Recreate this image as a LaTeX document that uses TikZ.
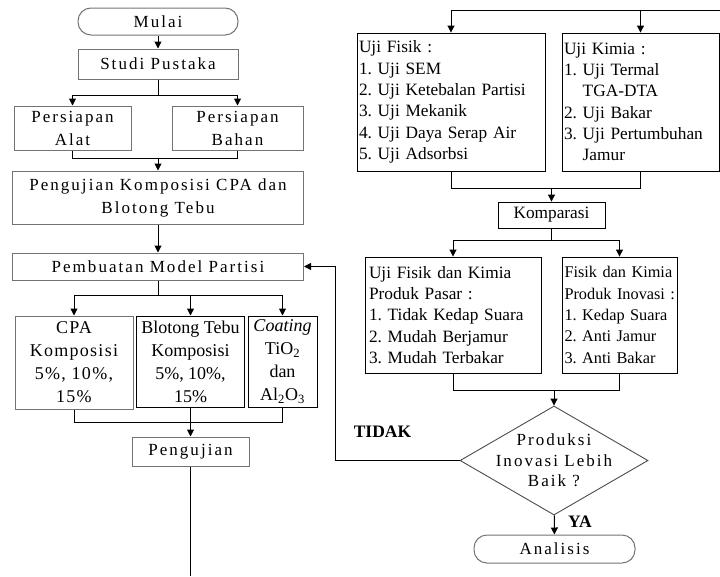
\documentclass[tikz,border=0pt]{standalone}
\usepackage{fontspec}
\setmainfont{Liberation Serif}
\newfontfamily\spaced[LetterSpace=12]{Liberation Serif}
\newfontfamily\spacedlite[LetterSpace=7]{Liberation Serif}
\usetikzlibrary{arrows.meta,shapes.geometric}
\frenchspacing
\hyphenpenalty=10000
\exhyphenpenalty=10000

\begin{document}
\begin{tikzpicture}[
    x=1pt, y=-1pt,
    box/.style={rectangle, draw=black!55, line width=1pt, inner sep=0pt, align=center, font=\spaced\fontsize{17}{23}\selectfont},
    ends/.style={box, rounded corners=13pt},
    list/.style={rectangle, draw, line width=0.9pt, inner xsep=2pt, inner ysep=0pt, align=left, font=\fontsize{17.3}{21.3}\selectfont},
    arrow/.style={-{Triangle[length=7pt,width=7pt]}, line width=1pt},
    link/.style={line width=1pt},
]
\useasboundingbox (0,0) rectangle (720,576);

% Left column
\node[ends, minimum width=160pt, minimum height=27pt] (mulai) at (158,21.5) {Mulai};
\node[box, minimum width=160pt, minimum height=30pt] (studi) at (158,64) {Studi Pustaka};
\node[box, minimum width=117pt, minimum height=44pt] (alat) at (72.5,128) {Persiapan\\Alat};
\node[box, minimum width=131pt, minimum height=44pt] (bahan) at (237.5,128) {Persiapan\\Bahan};
\node[box, minimum width=291pt, minimum height=53pt] (komposisi) at (158,197.5) {Pengujian Komposisi CPA dan\\Blotong Tebu};
\node[box, minimum width=291pt, minimum height=27pt] (model) at (158,266.5) {Pembuatan Model Partisi};

% Compositions
\node[box, font=\spacedlite\fontsize{18}{23}\selectfont, minimum width=118pt, minimum height=93pt] (cpa) at (74,362.5) {CPA\\Komposisi\\5\%, 10\%,\\15\%};
\node[box, draw=black, font=\fontsize{18}{23}\selectfont, minimum width=108pt, minimum height=91pt] (blotong) at (190.5,361.5) {Blotong Tebu\\Komposisi\\5\%, 10\%,\\15\%};
\node[box, draw=black, font=\fontsize{18}{23}\selectfont, minimum width=69pt, minimum height=91pt] (coating) at (282.5,361.5) {\textit{Coating}\\TiO\textsubscript{2}\\dan\\Al\textsubscript{2}O\textsubscript{3}};
\node[box, minimum width=117pt, minimum height=29pt] (pengujian) at (190.5,451.5) {Pengujian};

% Right column
\node[list, text width=184pt, minimum height=138pt] (fisik) at (451,102) {Uji Fisik :\\1. Uji SEM\\2. Uji Ketebalan Partisi\\3. Uji Mekanik\\4. Uji Daya Serap Air\\5. Uji Adsorbsi};
\node[list, text width=153pt, minimum height=138pt] (kimia) at (640.5,102) {Uji Kimia :\\1. Uji Termal\\\hphantom{1. }TGA-DTA\\2. Uji Bakar\\3.~Uji~Pertumbuhan\\\hphantom{3. }Jamur};
\node[list, align=center, minimum width=107pt, minimum height=26pt] (kompar) at (551.5,215) {Komparasi};
\node[list, inner xsep=4pt, text width=168pt, minimum height=116pt] (pasar) at (453,315) {Uji Fisik dan Kimia\\Produk Pasar :\\1.~Tidak~Kedap~Suara\\2. Mudah Berjamur\\3. Mudah Terbakar};
\node[list, font=\fontsize{16.3}{21.3}\selectfont, inner xsep=2.5pt, text width=110pt, minimum height=116pt] (inovasi) at (619.5,315) {Fisik~dan~Kimia\\Produk~Inovasi~:\\1. Kedap Suara\\2. Anti Jamur\\3. Anti Bakar};

% Decision
\node[diamond, draw=black!70, line width=0.9pt, minimum width=188pt, minimum height=109pt, inner sep=0pt] (baik) at (554,460.5) {};
\node[font=\spaced\fontsize{17}{20.5}\selectfont, align=center] (baiktext) at (baik) {Produksi\\Inovasi Lebih\\Baik ?};
\node[ends, minimum width=161pt, minimum height=28pt] (analisis) at (554.5,549) {Analisis};

% Labels
\node[font=\bfseries\fontsize{17.5}{20}\selectfont] (tidak) at (382.5,432) {TIDAK};
\node[font=\bfseries\fontsize{17.5}{20}\selectfont] (ya) at (580,522) {YA};

% Branch points
\coordinate (pisah1) at (158,95);
\coordinate (gabung1) at (158,158);
\coordinate (pisah2) at (158,295);
\coordinate (gabung2) at (190.5,422);
\coordinate (bawah) at (190.5,576);
\coordinate (atas) at (720,10);
\coordinate (pisah3) at (640.5,10);
\coordinate (gabung3) at (551.5,188);
\coordinate (pisah4) at (551.5,240);
\coordinate (gabung4) at (554,390);
\coordinate (balik) at (335,460.5);

% Arrows
\draw[arrow] (mulai) -- (studi);
\draw[link] (studi) -- (pisah1);
\draw[arrow] (pisah1) -| (alat);
\draw[arrow] (pisah1) -| (bahan);
\draw[link] (alat) |- (gabung1);
\draw[link] (bahan) |- (gabung1);
\draw[arrow] (gabung1) -- (komposisi);
\draw[arrow] (komposisi) -- (model);
\draw[link] (model) -- (pisah2);
\draw[arrow] (pisah2) -| (cpa);
\draw[arrow] (pisah2) -| (blotong);
\draw[arrow] (pisah2) -| (coating);
\draw[link] (cpa) |- (gabung2);
\draw[link] (coating) |- (gabung2);
\draw[arrow] (blotong) -- (pengujian);
\draw[link] (pengujian) -- (bawah);

\draw[link] (atas) -- (pisah3);
\draw[arrow] (pisah3) -| (fisik);
\draw[arrow] (pisah3) -- (kimia);
\draw[link] (fisik) |- (gabung3);
\draw[link] (kimia) |- (gabung3);
\draw[arrow] (gabung3) -- (kompar);
\draw[link] (kompar) -- (pisah4);
\draw[arrow] (pisah4) -| (pasar);
\draw[arrow] (pisah4) -| (inovasi);
\draw[link] (pasar) |- (gabung4);
\draw[link] (inovasi) |- (gabung4);
\draw[arrow] (gabung4) -- (baik);
\draw[arrow] (baik) -- (analisis);
\draw[arrow] (baik) -- (balik) |- (model);
\end{tikzpicture}
\end{document}
